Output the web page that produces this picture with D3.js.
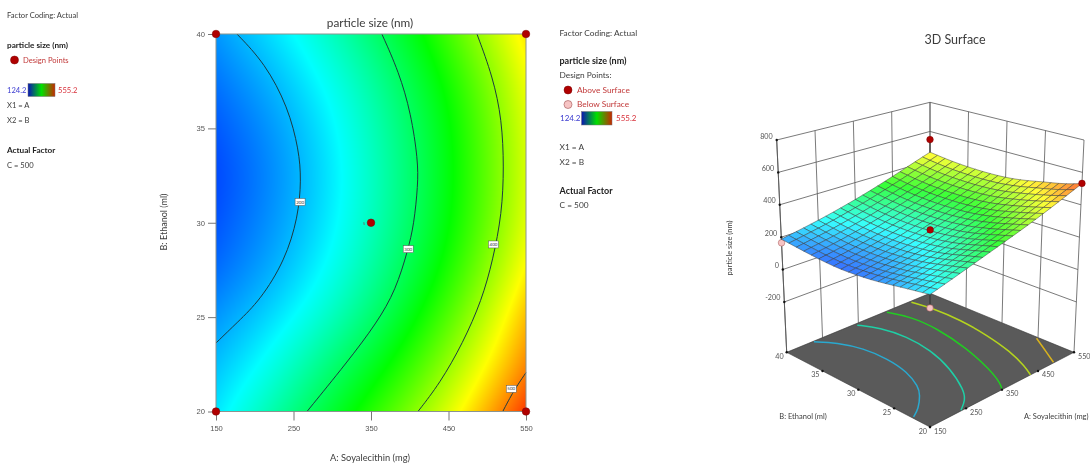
<!DOCTYPE html>
<html><head><meta charset="utf-8">
<script src="https://cdn.jsdelivr.net/npm/d3@7"></script>
<style>
html,body{margin:0;padding:0;background:#fff;overflow:hidden}
svg{display:block;filter:blur(0.4px);font-family:Lato,"Open Sans",sans-serif}
</style></head><body><svg id="c" width="1090" height="464"></svg>
<script>
// ---------- data ----------
const aValues=[150,200,250,300,350,400,450,500,550];
const bValues=[20,22.5,25,27.5,30,32.5,35,37.5,40];
const sizeGrid=[
 [222,252,285,319,354,391,433,480,531],
 [206,228,258,291,323,360,402,448,495],
 [188,207,230,258,291,330,373,422,476],
 [169,187,210,237,270,307,349,397,449],
 [159,177,199,226,258,295,336,382,433],
 [153,172,195,222,255,291,333,378,429],
 [161,178,200,227,259,295,335,381,431],
 [173,191,213,239,270,306,346,390,440],
 [188,209,231,259,290,326,367,412,458]];
const colorDomain=[124.2,232,339.7,447.5,555.2];
const colorRange=["#0000ff","#00ffff","#00ff00","#ffff00","#ff0000"];
const barRange=["#0a14b4","#00e000","#c82800"];
const aTicks=[150,250,350,450,550];
const bTicks=[20,25,30,35,40];
const zTicks=[-200,0,200,400,600,800];
const contour200=[[177,40],[213,38.46],[243,36.13],[257,33.85],[260,32.27],[256,30.3],[239,28],[207,25.9],[178,24.74],[150,23.63]];
const contour300=[[364,40],[386,37.99],[401.6,35.8],[410.6,33.3],[410.6,32],[405.4,29.9],[397.7,28.56],[382,26.44],[357.7,24.7],[319,22.6],[267.4,20]];
const contour400=[[486.7,40],[507.3,37.72],[519,35.44],[521.5,32.95],[519,30.5],[507.3,28.03],[493,25.9],[468.6,23.63],[439,21.5],[410.6,20]];
const contour500=[[520,20],[534,21.1],[550,22.06]];
const contourLabels=[["200",258.5,31.1],["300",398,28.6],["400",508,28.85],["500",531,21.2]];
const designPoints=[[150,40],[550,40],[150,20],[550,20],[350,30]];
const floorLines=[
 {c:"#2aa9cf",p:[[224,39.9],[256,38.3],[278,35.7],[282,32.6],[272,29.3],[245,26.4],[224,25.1],[184,23.3],[154,22.5]]},
 {c:"#1fcfa6",p:[[341,39.7],[366,37.8],[377,34.6],[369,30.9],[342,26.8],[298,22.7],[272,21.2],[238,20.1]]},
 {c:"#22cc22",p:[[425.6,39.8],[445,37.5],[445,33.8],[424,28.6],[391,23.7],[365.6,21],[351.6,20.1]]},
 {c:"#b4d41e",p:[[494,39.8],[504,37.3],[503.6,33.5],[491.6,29.2],[471.6,24.9],[446,21.6],[429,20]]},
 {c:"#d8b21e",p:[[546,25],[521,22.6],[495,20.1]]}];
const design3D=[[150,40,165,"below"],[550,40,544,"above"],[550,20,532,"above"],[350,30,266,"above"],[150,20,147,"below"]];
const legendLeft=[["Factor Coding: Actual",7,15,0],["particle size (nm)",7,45,1],["X1 = A",7,105,0],["X2 = B",7,120,0],["Actual Factor",7,150,1],["C = 500",7,165,0]];
const legendRight=[["Factor Coding: Actual",559.5,33,0],["particle size (nm)",559.5,61,1],["Design Points:",559.5,75.5,0],["X1 = A",559.5,147,0],["X2 = B",559.5,162,0],["Actual Factor",559.5,191,1],["C = 500",559.5,205,0]];

// ---------- shared ----------
const svg=d3.select("#c");
const color=d3.scaleLinear().domain(colorDomain).range(colorRange).clamp(true);
const rowFns=sizeGrid.map(r=>d3.interpolateBasis(r));
const aT=d3.scaleLinear().domain([150,550]).range([0,1]);
const bT=d3.scaleLinear().domain([20,40]).range([0,1]);
function size(a,b){const t=aT(a);return d3.interpolateBasis(rowFns.map(f=>f(t)))(bT(b));}
const RED="#b00000",INK="#3c3c3c",TICK="#555";
const defs=svg.append("defs");
const grad=defs.append("linearGradient").attr("id","bar");
barRange.forEach((c,i)=>grad.append("stop").attr("offset",i/2).attr("stop-color",c));

function textAt(g,s,x,y,opt={}){return g.append("text").attr("x",x).attr("y",y).attr("dy",".35em")
  .attr("font-size",opt.size||8.3).attr("fill",opt.fill||INK).attr("font-weight",opt.bold?700:400)
  .attr("text-anchor",opt.anchor||"start").text(s);}
function legend(rows,plain,bold){rows.forEach(r=>textAt(svg,r[0],r[1],r[2],{bold:r[3],fill:r[3]?"#222":INK,size:r[3]?bold:plain}));}
function bar(x,y,w,h,tx1,tx2,fs){
  svg.append("rect").attr("x",x).attr("y",y).attr("width",w).attr("height",h).attr("fill","url(#bar)").attr("stroke","#777").attr("stroke-width",.5);
  textAt(svg,"124.2",tx1,y+h/2,{fill:"#3a3ad0",size:fs});
  textAt(svg,"555.2",tx2,y+h/2,{fill:"#d8303a",size:fs});
}
legend(legendLeft,7.6,8.2);
svg.append("circle").attr("cx",14.5).attr("cy",60).attr("r",4).attr("fill",RED).attr("stroke","#7a0000").attr("stroke-width",.5);
textAt(svg,"Design Points",23,60,{fill:"#c23a3a",size:7.6});
bar(28,83.5,27,13,7,58,7.6);
legend(legendRight,8.3,9);
svg.append("circle").attr("cx",568).attr("cy",90).attr("r",4).attr("fill",RED).attr("stroke","#7a0000").attr("stroke-width",.5);
textAt(svg,"Above Surface",577,90,{fill:"#c23a3a"});
svg.append("circle").attr("cx",568).attr("cy",104.5).attr("r",4).attr("fill","#f6c4c4").attr("stroke","#a05050").attr("stroke-width",.6);
textAt(svg,"Below Surface",577,104.5,{fill:"#c23a3a"});
bar(581.5,111.5,30.5,13.5,560,616,8);

// ---------- 2D contour plot ----------
const x=d3.scaleLinear().domain([150,550]).range([216,526]);
const y=d3.scaleLinear().domain([20,40]).range([411.5,34]);
const W=310,H=378;
const cv=document.createElement("canvas");cv.width=W;cv.height=H;
const cx=cv.getContext("2d"),im=cx.createImageData(W,H);
const stepRows=Array.from({length:95},(_,j)=>20+20*j/94);
const stepCols=Array.from({length:79},(_,i)=>150+400*i/78);
const lattice=stepRows.map(b=>stepCols.map(a=>size(a,b)));
for(let py=0;py<H;py++){
  const b=y.invert(34+py+.5);
  const fr=Math.max(0,Math.min(93.999,(b-20)/20*94)),r0=Math.floor(fr),tr=fr-r0;
  for(let px=0;px<W;px++){
    const a=x.invert(216+px+.5);
    const fc=Math.max(0,Math.min(77.999,(a-150)/400*78)),c0=Math.floor(fc),tc=fc-c0;
    const v=(lattice[r0][c0]*(1-tc)+lattice[r0][c0+1]*tc)*(1-tr)+(lattice[r0+1][c0]*(1-tc)+lattice[r0+1][c0+1]*tc)*tr;
    const c=d3.rgb(color(v)),k=(py*W+px)*4;
    im.data[k]=c.r;im.data[k+1]=c.g;im.data[k+2]=c.b;im.data[k+3]=255;
  }
}
cx.putImageData(im,0,0);
svg.append("image").attr("x",216).attr("y",34).attr("width",W).attr("height",H).attr("href",cv.toDataURL());
const line2=d3.line().x(d=>x(d[0])).y(d=>y(d[1])).curve(d3.curveBasis);
[contour200,contour300,contour400,contour500].forEach(p=>svg.append("path").attr("d",line2(p)).attr("fill","none").attr("stroke","#1c3a40").attr("stroke-width",1));
svg.append("rect").attr("x",216).attr("y",34).attr("width",310).attr("height",377.5).attr("fill","none").attr("stroke","#8a9490").attr("stroke-width",1);
const axB=svg.append("g").attr("transform","translate(0,411.5)").call(d3.axisBottom(x).tickValues(aTicks).tickSize(9).tickPadding(5).tickFormat(d3.format("d")));
const axL=svg.append("g").attr("transform","translate(216,0)").call(d3.axisLeft(y).tickValues(bTicks).tickSize(8).tickPadding(3).tickFormat(d3.format("d")));
[axB,axL].forEach(g=>{g.select(".domain").remove();g.selectAll("line").attr("stroke","#777");
  g.selectAll("text").attr("font-size",7.6).attr("fill",TICK).attr("font-family",null);});
contourLabels.forEach(l=>{
  const g=svg.append("g").attr("transform",`translate(${x(l[1])},${y(l[2])})`);
  g.append("rect").attr("x",-5).attr("y",-3.5).attr("width",10).attr("height",7).attr("fill","#fff").attr("stroke","#555").attr("stroke-width",.5);
  g.append("text").attr("text-anchor","middle").attr("dy",".35em").attr("font-size",4.5).attr("fill","#333").text(l[0]);
});
designPoints.forEach(d=>svg.append("circle").attr("cx",x(d[0])).attr("cy",y(d[1])).attr("r",3.8).attr("fill",RED).attr("stroke","#7a0000").attr("stroke-width",.5));
textAt(svg,"5",364,223,{size:4.5,anchor:"middle",fill:"#666"});
textAt(svg,"particle size (nm)",370,23,{size:11.8,anchor:"middle"});
svg.append("text").attr("transform","translate(164,222) rotate(-90)").attr("text-anchor","middle").attr("dy",".35em").attr("font-size",9).attr("fill",INK).text("B: Ethanol (ml)");
textAt(svg,"A: Soyalecithin (mg)",370,458,{size:9.3,anchor:"middle"});

// ---------- 3D surface ----------
const zT=d3.scaleLinear().domain([-511,800]).range([0,1]);
const lerp=d3.interpolateNumber;
const C={f00:[930,427],f10:[1074,352.3],f01:[786.7,352.3],f11:[930,293.3],
         t00:[930,190],t10:[1084,140],t01:[776.7,140],t11:[930,102.3]};
function P(a,b,z){
  const u=aT(a),v=bT(b),w=zT(z);
  return [0,1].map(i=>{
    const fl=lerp(lerp(C.f00[i],C.f10[i])(u),lerp(C.f01[i],C.f11[i])(u))(v);
    const tp=lerp(lerp(C.t00[i],C.t10[i])(u),lerp(C.t01[i],C.t11[i])(u))(v);
    return lerp(fl,tp)(w);
  });
}
const seg=(p,q,col,sw)=>svg.append("line").attr("x1",p[0]).attr("y1",p[1]).attr("x2",q[0]).attr("y2",q[1]).attr("stroke",col).attr("stroke-width",sw);
const WALL="#585858";
zTicks.forEach(z=>{seg(P(150,40,z),P(550,40,z),WALL,.8);seg(P(550,40,z),P(550,20,z),WALL,.8);});
aTicks.forEach(a=>seg(P(a,40,-511),P(a,40,800),WALL,.8));
bTicks.forEach(b=>seg(P(550,b,-511),P(550,b,800),WALL,.8));
seg(P(150,40,-511),P(150,40,800),WALL,.9);
const poly=pts=>pts.map(p=>p.join(",")).join(" ");
svg.append("polygon").attr("points",poly([P(150,20,-511),P(550,20,-511),P(550,40,-511),P(150,40,-511)])).attr("fill","#5a5a5a").attr("stroke","#333").attr("stroke-width",.6);
const lineFloor=d3.line().x(d=>P(d[0],d[1],-511)[0]).y(d=>P(d[0],d[1],-511)[1]).curve(d3.curveBasis);
floorLines.forEach(f=>svg.append("path").attr("d",lineFloor(f.p)).attr("fill","none").attr("stroke",f.c).attr("stroke-width",1.5));
const dot=(p,r=1.2)=>svg.append("circle").attr("cx",p[0]).attr("cy",p[1]).attr("r",r).attr("fill","#111");
zTicks.forEach(z=>{const p=P(150,40,z);dot(p);textAt(svg,String(z),p[0]-4,p[1]-4,{size:7.2,anchor:"end",fill:TICK});});
aTicks.forEach(a=>{const p=P(a,20,-511);dot(p);textAt(svg,a,p[0]+4,p[1]+4,{size:7.2,fill:TICK});});
bTicks.forEach(b=>{const p=P(150,b,-511);dot(p);textAt(svg,b,p[0]-3,p[1]+4,{size:7.2,anchor:"end",fill:TICK});});
svg.append("text").attr("transform","translate(729,248) rotate(-90)").attr("text-anchor","middle").attr("dy",".35em").attr("font-size",7.5).attr("fill",INK).text("particle size (nm)");
textAt(svg,"B: Ethanol (ml)",803,416,{size:7.5,anchor:"middle"});
textAt(svg,"A: Soyalecithin (mg)",1024,416,{size:7.5});
textAt(svg,"3D Surface",955,40,{size:12.5,anchor:"middle"});
function stem(d){const s=P(d[0],d[1],size(d[0],d[1]));const p=P(d[0],d[1],d[2]);seg(s,p,"#222",.8);}
function mark(d){const p=P(d[0],d[1],d[2]);const above=d[3]==="above";
  svg.append("circle").attr("cx",p[0]).attr("cy",p[1]).attr("r",3.3).attr("fill",above?RED:"#f6c4c4").attr("stroke",above?"#7a0000":"#a05050").attr("stroke-width",.5);}
design3D.filter(d=>d[3]==="below").forEach(d=>{stem(d);mark(d);});
const N=20,meshA=d3.range(N+1).map(i=>150+400*i/N),meshB=d3.range(N+1).map(i=>20+20*i/N);
const meshZ=meshB.map(b=>meshA.map(a=>size(a,b)));
for(let j=N-1;j>=0;j--)for(let i=N-1;i>=0;i--){
  const zs=[meshZ[j][i],meshZ[j][i+1],meshZ[j+1][i+1],meshZ[j+1][i]];
  svg.append("polygon").attr("points",poly([P(meshA[i],meshB[j],zs[0]),P(meshA[i+1],meshB[j],zs[1]),P(meshA[i+1],meshB[j+1],zs[2]),P(meshA[i],meshB[j+1],zs[3])]))
    .attr("fill",d3.interpolateRgb(color(d3.mean(zs)),"#ffffff")(.22)).attr("stroke","#333").attr("stroke-width",.55).attr("stroke-opacity",.85);
}
design3D.filter(d=>d[3]==="above").forEach(d=>{stem(d);mark(d);});
</script></body></html>
